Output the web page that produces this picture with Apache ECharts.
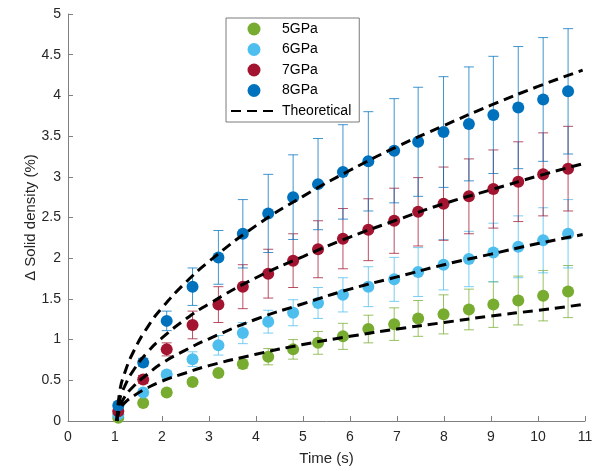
<!DOCTYPE html>
<html>
<head>
<meta charset="utf-8">
<script src="https://cdn.jsdelivr.net/npm/echarts@6/dist/echarts.min.js"></script>
<style>
  html, body { margin: 0; padding: 0; background: #fff; }
  #chart { width: 602px; height: 471px; }
</style>
</head>
<body>
<div id="chart"></div>
<script>
// time points (s)
var times = [1.07, 1.6, 2.1, 2.65, 3.2, 3.72, 4.26, 4.79, 5.32, 5.85, 6.39, 6.94, 7.45, 7.99, 8.53, 9.05, 9.58, 10.11, 10.64];

// measured values and error (half length of the bar)
var gpa5 = [0.04, 0.22, 0.35, 0.48, 0.59, 0.70, 0.79, 0.88, 0.96, 1.04, 1.13, 1.19, 1.26, 1.31, 1.37, 1.43, 1.48, 1.54, 1.59];
var gpa5Err = [0.01, 0.02, 0.03, 0.03, 0.03, 0.05, 0.10, 0.12, 0.14, 0.16, 0.17, 0.20, 0.22, 0.24, 0.25, 0.28, 0.30, 0.31, 0.32];
var gpa6 = [0.08, 0.35, 0.57, 0.76, 0.93, 1.08, 1.22, 1.33, 1.45, 1.55, 1.65, 1.74, 1.83, 1.92, 1.99, 2.07, 2.14, 2.22, 2.30];
var gpa6Err = [0.02, 0.03, 0.04, 0.09, 0.12, 0.13, 0.14, 0.16, 0.19, 0.21, 0.245, 0.27, 0.30, 0.31, 0.34, 0.36, 0.38, 0.40, 0.42];
var gpa7 = [0.12, 0.51, 0.88, 1.18, 1.43, 1.65, 1.81, 1.97, 2.11, 2.24, 2.35, 2.46, 2.57, 2.67, 2.76, 2.85, 2.94, 3.03, 3.10];
var gpa7Err = [0.03, 0.05, 0.08, 0.17, 0.22, 0.27, 0.30, 0.33, 0.35, 0.37, 0.38, 0.40, 0.42, 0.45, 0.46, 0.48, 0.49, 0.51, 0.52];
var gpa8 = [0.19, 0.72, 1.23, 1.65, 2.01, 2.30, 2.55, 2.75, 2.91, 3.06, 3.19, 3.32, 3.43, 3.55, 3.65, 3.76, 3.85, 3.95, 4.05];
var gpa8Err = [0.03, 0.05, 0.12, 0.23, 0.33, 0.42, 0.48, 0.52, 0.56, 0.58, 0.61, 0.64, 0.67, 0.68, 0.70, 0.72, 0.75, 0.76, 0.77];

// theoretical curves
var theoryT = [1.04, 1.1, 1.2, 1.4, 1.7, 2, 2.5, 3, 4, 5, 6, 7, 8, 9, 10, 10.95];
var theory5 = [0, 0.14, 0.22, 0.31, 0.41, 0.49, 0.59, 0.68, 0.82, 0.94, 1.04, 1.13, 1.21, 1.29, 1.36, 1.43];
var theory6 = [0, 0.17, 0.29, 0.43, 0.58, 0.71, 0.87, 1.01, 1.25, 1.44, 1.62, 1.77, 1.92, 2.05, 2.18, 2.29];
var theory7 = [0, 0.26, 0.42, 0.63, 0.85, 1.02, 1.25, 1.44, 1.76, 2.02, 2.26, 2.47, 2.67, 2.84, 3.01, 3.16];
var theory8 = [0, 0.36, 0.58, 0.86, 1.16, 1.39, 1.70, 1.96, 2.40, 2.76, 3.08, 3.37, 3.63, 3.88, 4.11, 4.31];

var xTicks = [0, 11, 1];
var yTicks = [0, 5, 0.5];

var names = ['5GPa', '6GPa', '7GPa', '8GPa'];
var colors = ['#77AC30', '#4DBEEE', '#A2142F', '#0072BD'];
var values = [gpa5, gpa6, gpa7, gpa8];
var errors = [gpa5Err, gpa6Err, gpa7Err, gpa8Err];
var theories = [theory5, theory6, theory7, theory8];

var font = 'Liberation Sans, Arial, sans-serif';

function pairs(xs, ys) {
	return xs.map(function(x, i) { return [x, ys[i]]; });
}

function errorBar(params, api) {
	var x = api.value(0), y = api.value(1), e = api.value(2);
	var top = api.coord([x, y + e]);
	var bot = api.coord([x, y - e]);
	var hw = 5;
	var style = { stroke: api.visual('color'), lineWidth: 1, opacity: 0.75 };
	return {
		type: 'group',
		children: [
			{ type: 'line', shape: { x1: top[0], y1: top[1], x2: bot[0], y2: bot[1] }, style: style },
			{ type: 'line', shape: { x1: top[0] - hw, y1: top[1], x2: top[0] + hw, y2: top[1] }, style: style },
			{ type: 'line', shape: { x1: bot[0] - hw, y1: bot[1], x2: bot[0] + hw, y2: bot[1] }, style: style }
		]
	};
}

var series = [];
names.forEach(function(name, k) {
	series.push({
		name: name,
		type: 'scatter',
		symbolSize: 12,
		z: 3 + 2 * k,
		itemStyle: { color: colors[k], opacity: 1 },
		data: pairs(times, values[k])
	});
	series.push({
		name: 'err' + name,
		type: 'custom',
		z: 2 + 2 * k,
		itemStyle: { color: colors[k] },
		renderItem: errorBar,
		encode: { x: 0, y: 1 },
		data: times.map(function(t, i) { return [t, values[k][i], errors[k][i]]; })
	});
});
theories.forEach(function(th) {
	series.push({
		name: 'Theoretical',
		type: 'line',
		smooth: true,
		symbol: 'none',
		z: 20,
		lineStyle: { color: '#000', width: 3, type: [10, 6] },
		itemStyle: { color: '#000' },
		data: pairs(theoryT, th)
	});
});

var chart = echarts.init(document.getElementById('chart'));
chart.setOption({
	animation: false,
	backgroundColor: '#fff',
	grid: {
		left: 68,
		right: 17,
		top: 14,
		bottom: 50
	},
	legend: {
		data: names.concat([{ name: 'Theoretical', itemStyle: { opacity: 0 } }]),
		orient: 'vertical',
		left: 226,
		top: 18,
		padding: [4, 8, 4, 4],
		itemWidth: 46,
		itemHeight: 13,
		itemGap: 6.5,
		borderColor: '#7a7a7a',
		borderWidth: 1,
		backgroundColor: '#fff',
		textStyle: { fontFamily: font, fontSize: 14, color: '#000' },
		selectedMode: false
	},
	xAxis: {
		type: 'value',
		min: xTicks[0],
		max: xTicks[1],
		interval: xTicks[2],
		name: 'Time (s)',
		nameLocation: 'middle',
		nameGap: 30,
		nameTextStyle: { fontFamily: font, fontSize: 15, color: '#262626' },
		axisLine: { lineStyle: { color: '#808080' } },
		axisTick: { inside: true, length: 5, lineStyle: { color: '#808080' } },
		axisLabel: { fontFamily: font, fontSize: 14, color: '#262626', margin: 9 },
		splitLine: { show: false }
	},
	yAxis: {
		type: 'value',
		min: yTicks[0],
		max: yTicks[1],
		interval: yTicks[2],
		name: 'Δ Solid density (%)',
		nameLocation: 'middle',
		nameRotate: 90,
		nameGap: 30,
		nameMoveOverlap: false,
		nameTextStyle: { fontFamily: font, fontSize: 15, color: '#262626' },
		axisLine: { show: true, lineStyle: { color: '#808080' } },
		axisTick: { show: true, inside: true, length: 5, lineStyle: { color: '#808080' } },
		axisLabel: { fontFamily: font, fontSize: 14, color: '#262626', margin: 7 },
		splitLine: { show: false }
	},
	series: series
});
</script>
</body>
</html>
